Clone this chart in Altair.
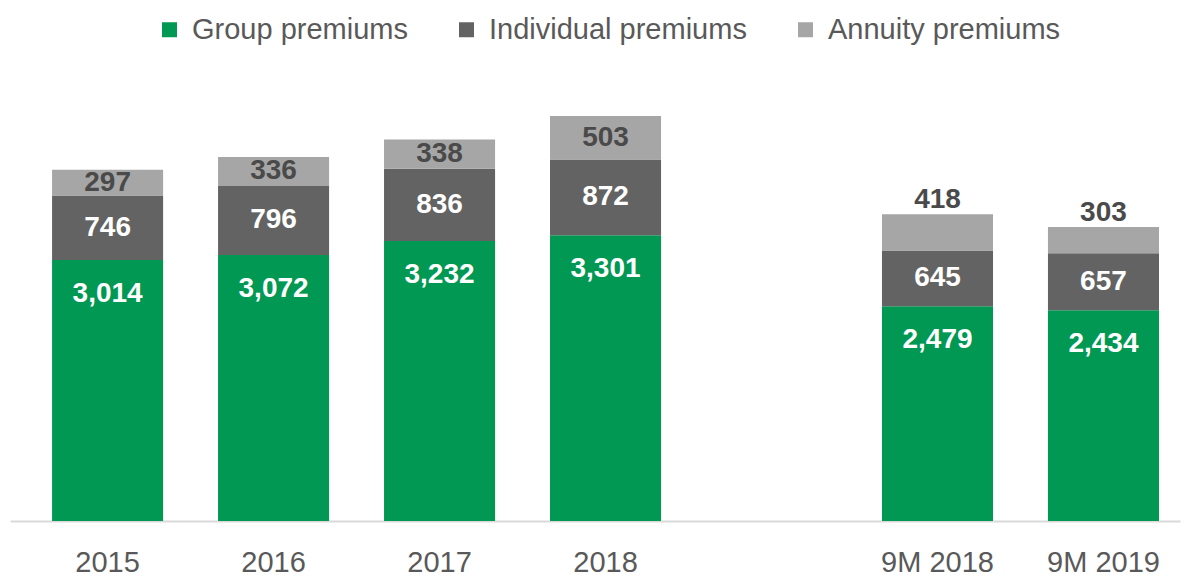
import altair as alt
import pandas as pd

categories = ["2015", "2016", "2017", "2018", " ", "9M 2018", "9M 2019"]
years = ["2015", "2016", "2017", "2018", "9M 2018", "9M 2019"]
period = ["annual", "annual", "annual", "annual", "9m", "9m"]
group = [3014, 3072, 3232, 3301, 2479, 2434]
individual = [746, 796, 836, 872, 645, 657]
annuity = [297, 336, 338, 503, 418, 303]
series = ["Group premiums", "Individual premiums", "Annuity premiums"]
colors = ["#009853", "#636363", "#a6a6a6"]

rows = []
for i, yr in enumerate(years):
    base = 0
    for k, (name, vals) in enumerate(zip(series, [group, individual, annuity])):
        v = vals[i]
        rows.append({"cat": yr, "series": name, "order": k, "value": v,
                     "lo": base, "hi": base + v, "mid": base + v / 2,
                     "label": f"{v:,}", "period": period[i]})
        base += v
df = pd.DataFrame(rows)

FONT = "Liberation Sans"

x = alt.X("cat:N", sort=categories,
          scale=alt.Scale(domain=categories, paddingInner=0.331, paddingOuter=0.19, align=0.667),
          axis=alt.Axis(title=None, labelAngle=0, ticks=False, domainColor="#d9d9d9", domainWidth=2,
                        labelFont=FONT, labelFontSize=29, labelColor="#595959", labelPadding=27))
yscale = alt.Scale(domain=[0, 5000], nice=False)

bars = alt.Chart(df).mark_bar().encode(
    x=x,
    y=alt.Y("lo:Q", scale=yscale, axis=None),
    y2="hi:Q",
    color=alt.Color("series:N", sort=series,
                    scale=alt.Scale(domain=series, range=colors),
                    legend=alt.Legend(title=None, orient="none", direction="horizontal",
                                      legendX=145, legendY=-73, symbolType="square",
                                      symbolSize=225, symbolStrokeWidth=0, labelFont=FONT,
                                      labelFontSize=29, labelColor="#595959", labelOffset=8,
                                      labelLimit=0, columnPadding=44)),
    order="order:Q",
)

text_green = alt.Chart(df[df.series == "Group premiums"]).mark_text(
    font=FONT, fontSize=28, fontWeight="bold", color="white", baseline="middle", dy=34
).encode(x=x, y=alt.Y("hi:Q", scale=yscale), text="label:N")

text_ind = alt.Chart(df[df.series == "Individual premiums"]).mark_text(
    font=FONT, fontSize=28, fontWeight="bold", color="white", baseline="middle"
).encode(x=x, y=alt.Y("mid:Q", scale=yscale), text="label:N")

text_ann_in = alt.Chart(df[(df.series == "Annuity premiums") & (df.period == "annual")]).mark_text(
    font=FONT, fontSize=28, fontWeight="bold", color="#4a4a4a", baseline="middle"
).encode(x=x, y=alt.Y("mid:Q", scale=yscale), text="label:N")

text_ann_out = alt.Chart(df[(df.series == "Annuity premiums") & (df.period == "9m")]).mark_text(
    font=FONT, fontSize=28, fontWeight="bold", color="#4a4a4a", baseline="middle", dy=-14
).encode(x=x, y=alt.Y("hi:Q", scale=yscale), text="label:N")

chart = alt.layer(bars, text_green, text_ind, text_ann_in, text_ann_out).properties(
    width=1170, height=433,
    autosize=alt.AutoSizeParams(type="none"),
    padding={"left": 2, "right": 2, "top": 80, "bottom": 62},
    background="white",
).configure_view(stroke=None)

chart.save("out.html", embed_options={"renderer": "svg", "actions": False})
